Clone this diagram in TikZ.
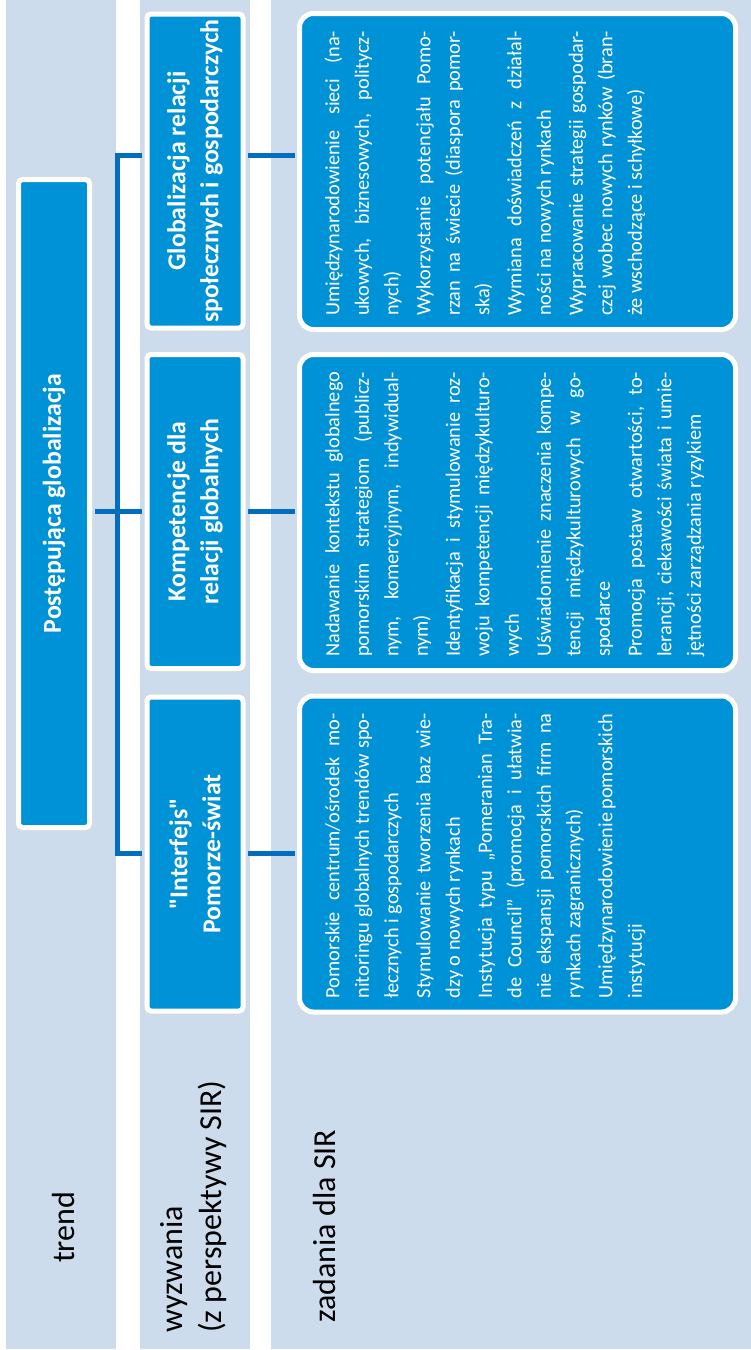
\documentclass[tikz,border=0pt]{standalone}
\usepackage{fontspec}
\setmainfont{Carlito}[Ligatures=TeXOff]
\usetikzlibrary{positioning, calc}

\definecolor{bandblue}{RGB}{204,220,236}
\definecolor{boxblue}{RGB}{0,146,214}
\definecolor{linkblue}{RGB}{4,110,190}

\newcommand\tasksetup{\fontsize{20.3}{29.5}\selectfont\parindent=0pt\parskip=2.5pt\tolerance=9999\hyphenpenalty=10000}

\tikzset{
  band/.style={fill=bandblue},
  bluebox/.style={rectangle, rotate=90, fill=boxblue, draw=white, line width=5pt, rounded corners=4pt,
    preaction={draw=black!15, line width=6.5pt}, text=white, align=center,
    font=\fontsize{25.8}{33}\selectfont\bfseries},
  taskbox/.style={bluebox, rounded corners=14pt, minimum width=316pt, minimum height=436pt},
  tasktext/.style={rotate=90, text=white, inner sep=0pt, text width=285pt, align=justify, font=\tasksetup},
  rowlabel/.style={rotate=90, inner sep=0pt, font=\fontsize{32}{39}\selectfont},
  link/.style={draw=linkblue, line width=5pt, shorten <=2.5pt, shorten >=2.5pt},
}

\begin{document}
\begin{tikzpicture}[x=1pt, y=-1pt]
\useasboundingbox (0,0) rectangle (751,1350);

% Row bands
\foreach \a/\b in {6/116, 140/250, 271/751}
  \fill[band] (\a,0) rectangle (\b,1349);

% Row labels
\node[rowlabel, anchor=base west] (trendlbl) at (74,1263) {trend};
\node[rowlabel, anchor=north west, align=left] (wyzlbl) at (154.7,1333) {\strut wyzwania\\(z perspektywy SIR)};
\node[rowlabel, anchor=base west] (zadlbl) at (335,1323) {zadania dla SIR};

% Trend
\node[bluebox, minimum width=648pt, minimum height=71pt] (main) at (54,503.5) {Postępująca globalizacja};

% Challenges
\node[bluebox, minimum width=314pt, minimum height=96pt] (c1) at (195,171) {Globalizacja relacji\\społecznych i gospodarczych};
\node[bluebox, minimum width=314pt, minimum height=96pt] (c2) at (195,511.5) {Kompetencje dla\\relacji globalnych};
\node[bluebox, minimum width=314pt, minimum height=96pt] (c3) at (195,854) {"Interfejs"\\Pomorze-świat};

% Tasks
\node[taskbox] (t1) at (517.5,171.5) {};
\node[taskbox] (t2) at (517.5,512.5) {};
\node[taskbox] (t3) at (517.5,854) {};

\node[tasktext, anchor=north west] (t1txt) at ($(t1.north west)+(21.5,-16)$) {\strut
Umiędzynarodowienie sieci (na-\linebreak ukowych, biznesowych, politycz-\linebreak nych)\par
Wykorzystanie potencjału Pomo-\linebreak rzan na świecie (diaspora pomor-\linebreak ska)\par
Wymiana doświadczeń z działal-\linebreak ności na nowych rynkach\par
Wypracowanie strategii gospodar-\linebreak czej wobec nowych rynków (bran-\linebreak że wschodzące i schyłkowe)};

\node[tasktext, anchor=north west] (t2txt) at ($(t2.north west)+(21.5,-16)$) {\strut
Nadawanie kontekstu globalnego\linebreak pomorskim strategiom (publicz-\linebreak nym, komercyjnym, indywidual-\linebreak nym)\par
Identyfikacja i stymulowanie roz-\linebreak woju kompetencji międzykulturo-\linebreak wych\par
Uświadomienie znaczenia kompe-\linebreak tencji międzykulturowych w go-\linebreak spodarce\par
Promocja postaw otwartości, to-\linebreak lerancji, ciekawości świata i umie-\linebreak jętności zarządzania ryzykiem};

\node[tasktext, anchor=north west] (t3txt) at ($(t3.north west)+(21.5,-16)$) {\strut
Pomorskie centrum/ośrodek mo-\linebreak nitoringu globalnych trendów spo-\linebreak łecznych i gospodarczych\par
Stymulowanie tworzenia baz wie-\linebreak dzy o nowych rynkach\par
Instytucja typu „Pomeranian Tra-\linebreak de Council” (promocja i ułatwia-\linebreak nie ekspansji pomorskich firm na\linebreak rynkach zagranicznych)\par
Umiędzynarodowienie pomorskich\linebreak instytucji};

% Connectors
\coordinate (j1) at (117.5,155);
\coordinate (j3) at (117.5,853);
\draw[link] (c1.north |- j1) -| (j3) -- (c3.north |- j3);
\draw[link] (main.south |- c2.north) -- (c2.north);
\draw[link] (c1.south |- j1) -- (t1.north |- j1);
\draw[link] (c2.south) -- (t2.north |- c2.south);
\draw[link] (c3.south |- j3) -- (t3.north |- j3);
\end{tikzpicture}
\end{document}
